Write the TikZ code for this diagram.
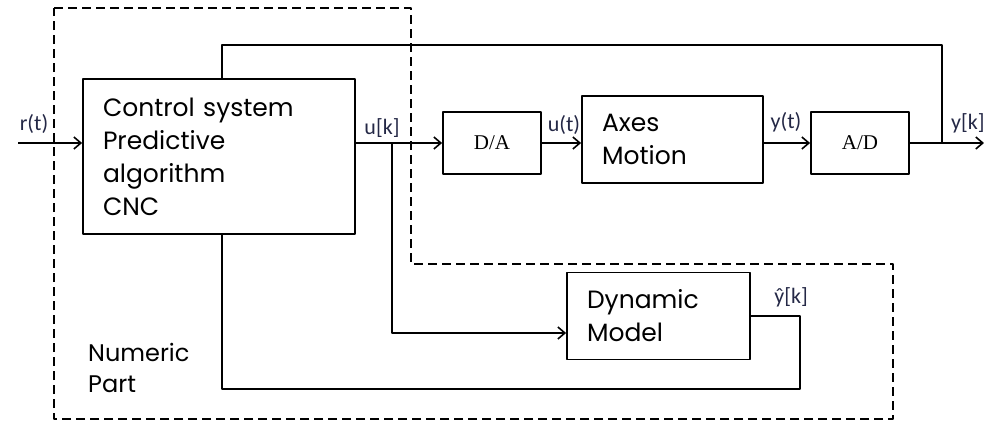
\documentclass[tikz,border=0pt]{standalone}
\usepackage{fontspec}
\usepackage{tikz}
\usetikzlibrary{arrows.meta}
\newfontfamily\boxfont{Poppins}
\newfontfamily\sigfont{Carlito}
\newfontfamily\convfont{Liberation Serif}
\definecolor{sigcol}{RGB}{36,40,70}

\begin{document}
\begin{tikzpicture}[x=1pt,y=-1pt,line join=round,
    >={Straight Barb[length=7pt,width=12pt,line width=1.6pt]},
    blk/.style={draw,line width=1.8pt,inner ysep=0pt,inner xsep=20pt,
      font=\boxfont\fontsize{25}{33}\selectfont,align=left},
    conv/.style={draw,line width=1.8pt,minimum width=98pt,minimum height=62pt,
      font=\convfont\fontsize{21}{22}\selectfont},
    wire/.style={line width=1.8pt},
    sig/.style={font=\sigfont\fontsize{22}{24}\selectfont,text=sigcol,inner sep=0pt},
    bound/.style={line width=1.6pt,dash pattern=on 9pt off 5pt}]
  \useasboundingbox (0,0) rectangle (984,421);
  \draw[bound] (54,8)--(411,8)--(411,264)--(893,264)--(893,419)--(54,419)--cycle;
  \node[blk,text width=232pt,minimum height=155pt] (ctrl) at (219,156.5)
    {Control system\\Predictive\\algorithm\\CNC};
  \node[conv] (da) at (492,143) {D/A};
  \node[blk,text width=141pt,minimum height=87pt] (ax) at (672.5,139.5) {Axes\\Motion};
  \node[conv] (ad) at (860,143) {A/D};
  \node[blk,text width=143pt,minimum height=87pt] (dyn) at (658.5,316) {Dynamic\\Model};
  \node[font=\boxfont\fontsize{24}{31}\selectfont,align=left,anchor=north west,inner sep=0pt]
    (num) at (88,343) {Numeric\\Part};
  \coordinate (in) at (18,143);
  \coordinate (uk) at (392,143);
  \coordinate (ub) at (392,333);
  \coordinate (top) at (222,45);
  \coordinate (yk) at (942,143);
  \coordinate (out) at (984,143);
  \coordinate (bot) at (800,389);
  \draw[wire,->] (in) -- (in -| ctrl.west);
  \draw[wire,->] (ctrl.east |- da) -- (da.west);
  \draw[wire,->] (da.east) -- (da.east -| ax.west);
  \draw[wire,->] (ax.east |- ad) -- (ad.west);
  \draw[wire,->] (ad.east) -- (out);
  \draw[wire,->] (uk) -- (ub) -- (ub -| dyn.west);
  \draw[wire] (top |- ctrl.north) -- (top) -| (yk);
  \draw[wire] (dyn.east) -| (bot) -| (top |- ctrl.south);
  \node[sig] (rt) at (34,124) {r(t)};
  \node[sig] (ukl) at (382,128) {u[k]};
  \node[sig] (utl) at (564,125) {u(t)};
  \node[sig] (ytl) at (786,122) {y(t)};
  \node[sig,anchor=west] (ykl) at (951,123) {y[k]};
  \node[sig] (yhat) at (791,297) {ŷ[k]};
\end{tikzpicture}
\end{document}
